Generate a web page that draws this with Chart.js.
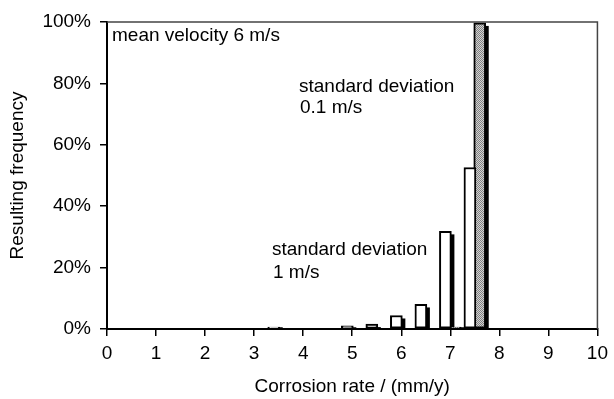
<!DOCTYPE html>
<html>
<head>
<meta charset="utf-8">
<script src="https://cdn.jsdelivr.net/npm/chart.js@4.4.1/dist/chart.umd.min.js"></script>
<style>
  html, body { margin: 0; padding: 0; background: #fff; }
  #wrap { width: 614px; height: 399px; position: relative; }
</style>
</head>
<body>
<div id="wrap"><canvas id="chart"></canvas></div>
<script>
// Bin centres (mm/y) and resulting frequency (%) for the two velocity spreads
const binsWide   = [3.4, 4.9, 5.4, 5.9, 6.4, 6.9, 7.4]
const freqWide   = [0.6, 1.0, 1.6, 4.4, 8.0, 31.8, 52.6]
const binsNarrow = [7.1, 7.6]
const freqNarrow = [0.6, 99.7]

const xTickStep = 1
const yTickStep = 20

const FONT = { family: '"Liberation Sans", Arial, sans-serif', size: 19 }
const INK = '#000'
const SHADOW = 3

// grey checkered fill for the narrow-spread bar
function checkerPattern() {
  const pc = document.createElement('canvas')
  pc.width = 2
  pc.height = 2
  const p = pc.getContext('2d')
  p.fillStyle = '#d2d2d2'
  p.fillRect(0, 0, 2, 2)
  p.fillStyle = '#808080'
  p.fillRect(0, 0, 1, 1)
  p.fillRect(1, 1, 1, 1)
  return p.createPattern(pc, 'repeat')
}

// Excel style drop shadow: a black copy of each bar element, nudged right/down
const barShadow = {
  id: 'barShadow',
  beforeDatasetsDraw(chart) {
    const { ctx, chartArea: a } = chart
    ctx.save()
    ctx.fillStyle = INK
    chart.data.datasets.forEach((ds, i) => {
      chart.getDatasetMeta(i).data.forEach(bar => {
        const { x, y, base, width } = bar.getProps(['x', 'y', 'base', 'width'], true)
        const top = Math.min(y + SHADOW, base - 1)
        ctx.fillRect(x - width / 2 + SHADOW, top, width, Math.min(base, a.bottom) + 1 - top)
      })
    })
    ctx.restore()
  },
}

// top and right frame lines plus the in-plot notes
const frameAndNotes = {
  id: 'frameAndNotes',
  afterDraw(chart) {
    const { ctx, chartArea: a } = chart
    ctx.save()
    ctx.strokeStyle = '#444'
    ctx.lineWidth = 1.5
    ctx.beginPath()
    ctx.moveTo(a.left, a.top)
    ctx.lineTo(a.right, a.top)
    ctx.lineTo(a.right, a.bottom)
    ctx.stroke()

    ctx.fillStyle = INK
    ctx.font = `${FONT.size}px ${FONT.family}`
    ctx.textBaseline = 'alphabetic'
    ctx.textAlign = 'left'
    ctx.fillText('mean velocity 6 m/s', a.left + 5, a.top + 19)
    ctx.fillText('standard deviation', 299, 92)
    ctx.fillText('0.1 m/s', 300, 113)
    ctx.fillText('standard deviation', 272, 255)
    ctx.fillText('1 m/s', 273, 278)
    ctx.restore()
  },
}

const toPoints = (xs, ys) => xs.map((x, i) => ({ x, y: ys[i] }))

new Chart(document.getElementById('chart'), {
  type: 'bar',
  data: {
    datasets: [
      {
        label: 'standard deviation 1 m/s',
        data: toPoints(binsWide, freqWide),
        backgroundColor: '#fff',
        borderColor: INK,
        borderWidth: 2,
        borderSkipped: false,
        barThickness: 12,
        grouped: false,
      },
      {
        label: 'standard deviation 0.1 m/s',
        data: toPoints(binsNarrow, freqNarrow),
        backgroundColor: checkerPattern(),
        borderColor: INK,
        borderWidth: 2,
        borderSkipped: false,
        barThickness: 12,
        grouped: false,
      },
    ],
  },
  options: {
    responsive: true,
    maintainAspectRatio: false,
    animation: false,
    layout: { padding: { top: 22, right: 13, bottom: 0, left: 0 } },
    plugins: {
      legend: { display: false },
      tooltip: { enabled: false },
    },
    scales: {
      x: {
        type: 'linear',
        min: 0,
        max: 10,
        offset: false,
        grid: { drawOnChartArea: false, drawTicks: true, tickLength: 7, color: INK, lineWidth: 1.5, offset: false },
        border: { color: INK, width: 2 },
        ticks: { stepSize: xTickStep, color: INK, font: FONT, padding: 6, maxRotation: 0, autoSkip: false },
        title: { display: true, text: 'Corrosion rate / (mm/y)', color: INK, font: FONT, padding: { top: 0, bottom: 1 } },
        afterFit: s => { s.height = 70 },
      },
      y: {
        min: 0,
        max: 100,
        grid: { drawOnChartArea: false, drawTicks: true, tickLength: 7, color: INK, lineWidth: 1.5 },
        border: { color: INK, width: 2 },
        ticks: { stepSize: yTickStep, color: INK, font: FONT, padding: 9, callback: v => v + '%' },
        title: { display: true, text: 'Resulting frequency', color: INK, font: FONT, padding: { top: 6, bottom: 0 } },
        afterFit: s => { s.width = 107 },
      },
    },
  },
  plugins: [barShadow, frameAndNotes],
})
</script>
</body>
</html>
